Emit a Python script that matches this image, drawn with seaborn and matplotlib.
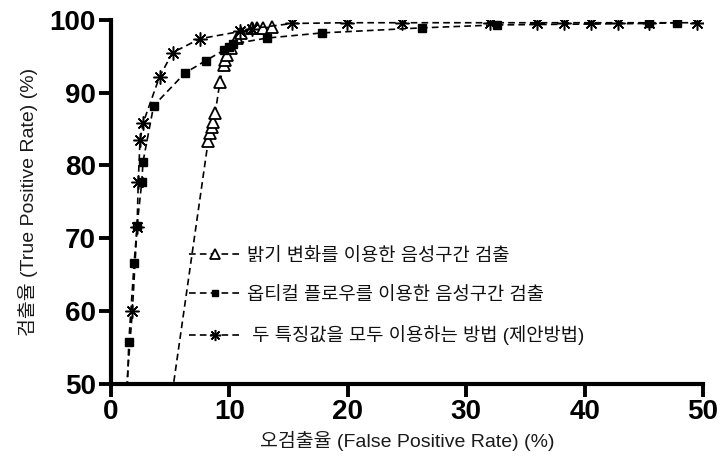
import numpy as np
import pandas as pd
import seaborn as sns
import matplotlib.pyplot as plt

# --- data ---
# brightness-change method (open triangles)
tri_fpr = [4.4, 8.2, 8.4, 8.5, 8.6, 8.8, 9.2, 9.5, 9.6, 9.8, 10.1, 10.6, 11.0, 11.9, 12.3, 12.8, 13.6]
tri_tpr = [40.0, 83.3, 84.5, 85.3, 86.0, 87.2, 91.5, 93.8, 94.5, 95.2, 96.2, 97.5, 98.2, 98.9, 98.9, 98.9, 99.0]

# optical-flow method (filled squares)
sq_fpr = [1.3, 1.5, 1.95, 2.2, 2.6, 2.7, 3.6, 6.25, 8.0, 9.5, 10.0, 10.3, 13.2, 17.8, 26.3, 32.6, 45.4, 47.8]
sq_tpr = [45.0, 55.8, 66.6, 71.7, 77.8, 80.5, 88.2, 92.7, 94.4, 95.8, 96.3, 96.7, 97.5, 98.2, 98.9, 99.3, 99.5, 99.6]

# combined (proposed) method (asterisks)
st_fpr = [1.1, 1.8, 2.2, 2.3, 2.45, 2.7, 4.1, 5.2, 7.5, 10.9, 11.9, 15.3, 19.9, 24.6, 32.0, 36.0, 38.3, 40.5, 42.8, 45.4, 49.5]
st_tpr = [45.0, 60.0, 71.6, 77.8, 83.5, 85.8, 92.2, 95.5, 97.4, 98.4, 98.8, 99.5, 99.6, 99.6, 99.6, 99.6, 99.6, 99.6, 99.6, 99.6, 99.6]

labels = ["밝기 변화를 이용한 음성구간 검출",
          "옵티컬 플로우를 이용한 음성구간 검출",
          " 두 특징값을 모두 이용하는 방법 (제안방법)"]

x_ticks = [0, 10, 20, 30, 40, 50]
y_ticks = [50, 60, 70, 80, 90, 100]

sns.set_style("white")
plt.rcParams['font.family'] = ['Liberation Sans', 'Noto Sans CJK KR', 'DejaVu Sans']

fig, ax = plt.subplots(figsize=(7.21, 4.61), dpi=100)
fig.subplots_adjust(left=0.154, right=0.975, top=0.957, bottom=0.167)

series = [
    (tri_fpr, tri_tpr, '^', 9, 'white', 1.3, labels[0]),
    (sq_fpr, sq_tpr, 's', 6, 'black', 1.0, labels[1]),
    (st_fpr, st_tpr, (8, 2, 0), 10, 'black', 1.1, labels[2]),
]
for fx, ty, mk, ms, mfc, mew, lab in series:
    df = pd.DataFrame({'fpr': fx, 'tpr': ty})
    sns.lineplot(data=df, x='fpr', y='tpr', ax=ax, sort=False, estimator=None,
                 color='black', linestyle=(0, (4, 2.5)), linewidth=1.2,
                 marker=mk, markersize=ms, markerfacecolor=mfc,
                 markeredgecolor='black', markeredgewidth=mew, label=lab)

ax.set_xlim(0, 50)
ax.set_ylim(50, 100)
ax.set_xticks(x_ticks)
ax.set_yticks(y_ticks)
ax.tick_params(axis='both', which='major', direction='out', length=9, width=2.8,
               labelsize=20, pad=2, left=True, bottom=True,
               colors='black', labelcolor='black')
for lbl in ax.get_xticklabels() + ax.get_yticklabels():
    lbl.set_fontweight('bold')

for s in ['top', 'right']:
    ax.spines[s].set_visible(False)
for s in ['left', 'bottom']:
    ax.spines[s].set_linewidth(3)
    ax.spines[s].set_color('black')

ax.set_xlabel("오검출율 (False Positive Rate) (%)", fontsize=14, color='#1a1a1a', labelpad=4)
ax.set_ylabel("검출율 (True Positive Rate) (%)", fontsize=14, color='#1a1a1a', labelpad=8)

leg = ax.legend(loc='center left', bbox_to_anchor=(0.103, 0.24), frameon=False,
                fontsize=13.5, handlelength=2.8, labelspacing=1.15, handletextpad=0.3,
                markerscale=0.8)
for t in leg.get_texts():
    t.set_color('#111111')

fig.savefig("out.png", dpi=100)
